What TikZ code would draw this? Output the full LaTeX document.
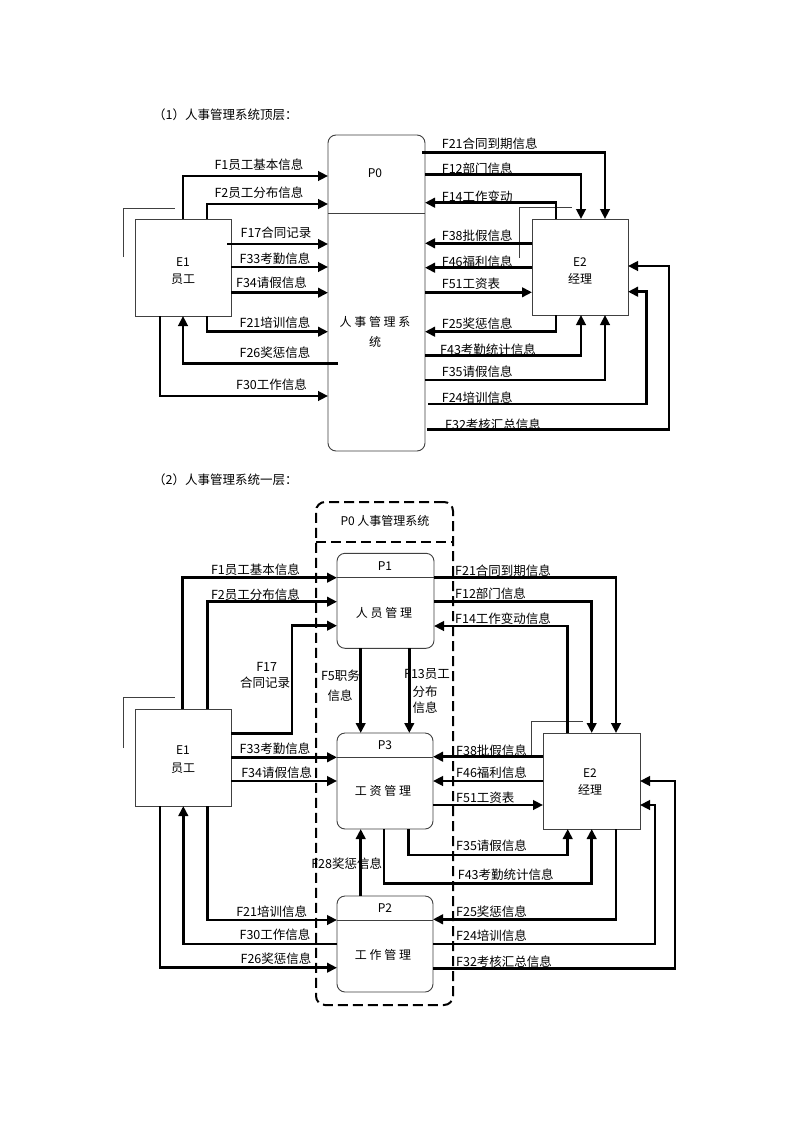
\documentclass[tikz,border=0pt]{standalone}
\usepackage{fontspec}
\setmainfont{Noto Sans CJK SC}
\usetikzlibrary{arrows.meta,calc}
\tikzset{
  flow/.style={line width=2.6pt,-{Triangle[length=10pt,width=9.5pt]}},
  box/.style={draw=black!75,line width=0.9pt,inner sep=0pt,outer sep=0pt},
  proc/.style={box,rounded corners=8pt},
  thin/.style={draw=black!75,line width=0.9pt},
  lab/.style={inner sep=0pt,font=\fontsize{12.5}{14}\selectfont},
  llab/.style={lab,anchor=west},
  ttl/.style={inner sep=0pt,anchor=west,font=\fontsize{12.5}{15}\selectfont},
  boxtxt/.style={inner sep=0pt,font=\fontsize{12}{14}\selectfont}
}
\begin{document}
\begin{tikzpicture}[x=1pt,y=-1pt]
\useasboundingbox (0,0) rectangle (800,1132);
\fill[white] (0,0) rectangle (800,1132);

% ================= TOP =================
\node[ttl] (t1) at (153,115) {（1）人事管理系统顶层：};

\node[proc,minimum width=97pt,minimum height=316pt] (P0) at (376.5,293) {};
\draw[thin] (P0.west |- 0,213) -- (P0.east |- 0,213);
\node[boxtxt] (P0t) at (375,173) {P0};
\node[boxtxt] (P0a) at (375,322) {人 事 管 理 系};
\node[boxtxt] (P0b) at (375,342) {统};

\node[box,minimum width=96pt,minimum height=97pt] (E1) at (183,267.5) {};
\node[boxtxt] (E1a) at (183,262) {E1};
\node[boxtxt] (E1b) at (183,279) {员工};
\draw[thin] (123,257) -- (123,208) -- (175,208);

\node[box,minimum width=96pt,minimum height=96pt] (E2) at (580,267) {};
\node[boxtxt] (E2a) at (580,262) {E2};
\node[boxtxt] (E2b) at (580,279) {经理};
\draw[thin] (519.3,257.7) -- (519.3,207.3) -- (571.7,207.3);

% left flows
\draw[flow] (E1.north -| 183,0) |- (P0.west |- 0,176);
\draw[flow] (E1.north -| 207,0) |- (P0.west |- 0,204);
\draw[flow] ($(E1.east |- 0,244)+(-4,0)$) -- (P0.west |- 0,244);
\draw[flow] (E1.east |- 0,267) -- (P0.west |- 0,267);
\draw[flow] (E1.east |- 0,292.7) -- (P0.west |- 0,292.7);
\draw[flow] (E1.south -| 207,0) |- (P0.west |- 0,331.7);
\draw[flow] ($(P0.west |- 0,363.3)+(10,0)$) -| (E1.south -| 183,0);
\draw[flow] (E1.south -| 160,0) |- (P0.west |- 0,396);

\node[lab] (l1) at (259,165) {F1员工基本信息};
\node[lab] (l2) at (259,193) {F2员工分布信息};
\node[lab] (l17) at (276,233) {F17合同记录};
\node[lab] (l33) at (275,259) {F33考勤信息};
\node[lab] (l34) at (271.5,283) {F34请假信息};
\node[lab] (l21) at (275,323) {F21培训信息};
\node[lab] (l26) at (275,353) {F26奖惩信息};
\node[lab] (l30) at (271.5,385) {F30工作信息};

% right flows
\draw[flow] ($(P0.east |- 0,152.3)+(-3,0)$) -| (E2.north -| 605,0);
\draw[flow] (P0.east |- 0,174.3) -| (E2.north -| 581,0);
\draw[flow] (E2.north -| 556,0) |- (P0.east |- 0,202.7);
\draw[flow] (E2.west |- 0,243.3) -- (P0.east |- 0,243.3);
\draw[flow] (E2.west |- 0,267.7) -- (P0.east |- 0,267.7);
\draw[flow] (P0.east |- 0,292.3) -- (E2.west |- 0,292.3);
\draw[flow] (E2.south -| 556,0) |- (P0.east |- 0,331.7);
\draw[flow] (P0.east |- 0,355.7) -| (E2.south -| 581,0);
\draw[flow] (P0.east |- 0,380) -| (E2.south -| 605,0);
\draw[flow] ($(P0.east |- 0,404)+(3,0)$) -| ($(E2.east |- 0,291.7)+(18.7,0)$) -- (E2.east |- 0,291.7);
\draw[flow] ($(P0.east |- 0,429.3)+(2,0)$) -| ($(E2.east |- 0,266)+(41,0)$) -- (E2.east |- 0,266);

\node[llab] (r21) at (441.7,143.3) {F21合同到期信息};
\node[llab] (r12) at (441.7,168.3) {F12部门信息};
\node[llab] (r14) at (441.7,196.7) {F14工作变动};
\node[llab] (r38) at (441.7,236) {F38批假信息};
\node[llab] (r46) at (441.7,261.7) {F46福利信息};
\node[llab] (r51) at (441.7,284) {F51工资表};
\node[llab] (r25) at (441.7,323.3) {F25奖惩信息};
\node[llab] (r43) at (440,349.3) {F43考勤统计信息};
\node[llab] (r35) at (441.7,371.7) {F35请假信息};
\node[llab] (r24) at (441.7,397.3) {F24培训信息};
\node[llab] (r32) at (445,425) {F32考核汇总信息};

% ================= BOTTOM =================
\node[ttl] (t2) at (153,480) {（2）人事管理系统一层：};

\node[draw,line width=2pt,dash pattern=on 10pt off 5pt,rounded corners=9pt,inner sep=0pt,outer sep=0pt,minimum width=137pt,minimum height=503pt] (PP) at (384.5,753.5) {};
\draw[line width=2pt,dash pattern=on 10pt off 5pt] (PP.west |- 0,541.7) -- (PP.east |- 0,541.7);
\node[boxtxt] (PPt) at (385,521) {P0 人事管理系统};

\node[proc,minimum width=97pt,minimum height=95pt] (P1) at (385.5,600.8) {};
\draw[thin] (P1.west |- 0,577.7) -- (P1.east |- 0,577.7);
\node[boxtxt] (P1t) at (385,566) {P1};
\node[boxtxt] (P1a) at (384,613) {人 员 管 理};

\node[proc,minimum width=96pt,minimum height=96pt] (P3) at (385,781) {};
\draw[thin] (P3.west |- 0,757.3) -- (P3.east |- 0,757.3);
\node[boxtxt] (P3t) at (385,745) {P3};
\node[boxtxt] (P3a) at (383,791) {工 资 管 理};

\node[proc,minimum width=96pt,minimum height=96pt] (P2) at (385,944) {};
\draw[thin] (P2.west |- 0,920) -- (P2.east |- 0,920);
\node[boxtxt] (P2t) at (385,908) {P2};
\node[boxtxt] (P2a) at (383,955) {工 作 管 理};

\node[box,minimum width=96pt,minimum height=97pt] (F1) at (183,757.5) {};
\node[boxtxt] (F1a) at (183,750) {E1};
\node[boxtxt] (F1b) at (183,768) {员工};
\draw[thin] (123.3,748) -- (123.3,697.3) -- (175,697.3);

\node[box,minimum width=97pt,minimum height=96pt] (F2) at (591.5,781) {};
\node[boxtxt] (F2a) at (590,773) {E2};
\node[boxtxt] (F2b) at (590,790) {经理};
\draw[thin] (531.7,756.7) -- (531.7,721) -- (583.3,721);

% left flows
\draw[flow] (F1.north -| 182.7,0) |- (P1.west |- 0,577.7);
\draw[flow] (F1.north -| 207.3,0) |- (P1.west |- 0,601.7);
\draw[flow] (F1.east |- 0,733.3) -| ($(P1.west |- 0,625.7)+(-45,0)$) -- (P1.west |- 0,625.7);
\draw[flow] (P1.south -| 360.7,0) -- (P3.north -| 360.7,0);
\draw[flow] (P1.south -| 409.3,0) -- (P3.north -| 409.3,0);
\draw[flow] (F1.east |- 0,757.3) -- (P3.west |- 0,757.3);
\draw[flow] (F1.east |- 0,781) -- (P3.west |- 0,781);
\draw[flow] (P2.north -| 360.7,0) -- (P3.south -| 360.7,0);
\draw[flow] (F1.south -| 207.3,0) |- (P2.west |- 0,920);
\draw[flow] (P2.west |- 0,944) -| (F1.south -| 183.3,0);
\draw[flow] (F1.south -| 160,0) |- (P2.west |- 0,967.7);

\node[lab] (m1) at (255.5,569.3) {F1员工基本信息};
\node[lab] (m2) at (255.5,594.3) {F2员工分布信息};
\node[lab] (m17a) at (266.7,666.7) {F17};
\node[lab] (m17b) at (265,683) {合同记录};
\node[lab] (m5a) at (340.5,675.5) {F5职务};
\node[lab] (m5b) at (340,695.7) {信息};
\node[lab] (m13a) at (427,674) {F13员工};
\node[lab] (m13b) at (425,691.7) {分布};
\node[lab] (m13c) at (425,708) {信息};
\node[lab] (m33) at (275,748.3) {F33考勤信息};
\node[lab] (m34) at (276.7,772.7) {F34请假信息};
\node[lab] (m28) at (346.7,863.3) {F28奖惩信息};
\node[lab] (m21) at (271.7,911.7) {F21培训信息};
\node[lab] (m30) at (275,935) {F30工作信息};
\node[lab] (m26) at (276,958.3) {F26奖惩信息};

% right flows
\draw[flow] (P1.east |- 0,577.3) -| (F2.north -| 616,0);
\draw[flow] (P1.east |- 0,601.7) -| (F2.north -| 591.7,0);
\draw[flow] (F2.north -| 567.7,0) |- (P1.east |- 0,626);
\draw[flow] (F2.west |- 0,756.7) -- (P3.east |- 0,756.7);
\draw[flow] (F2.west |- 0,781) -- (P3.east |- 0,781);
\draw[flow] (P3.east |- 0,805) -- (F2.west |- 0,805);
\draw[flow] (P3.south -| 408.3,0) |- ($(F2.south -| 567.7,0)+(0,26)$) -- (F2.south -| 567.7,0);
\draw[flow] (P3.south -| 384,0) |- ($(F2.south -| 591.7,0)+(0,54.3)$) -- (F2.south -| 591.7,0);
\draw[flow] (F2.south -| 616,0) |- (P2.east |- 0,919.3);
\draw[flow] (P2.east |- 0,944) -| ($(F2.east |- 0,805)+(15,0)$) -- (F2.east |- 0,805);
\draw[flow] (P2.east |- 0,968.3) -| ($(F2.east |- 0,781)+(35,0)$) -- (F2.east |- 0,781);

\node[llab] (n21) at (455,570.7) {F21合同到期信息};
\node[llab] (n12) at (455,593.3) {F12部门信息};
\node[llab] (n14) at (455,619) {F14工作变动信息};
\node[llab] (n38) at (456,750.7) {F38批假信息};
\node[llab] (n46) at (456,772.7) {F46福利信息};
\node[llab] (n51) at (456,797.3) {F51工资表};
\node[llab] (n35) at (456,846) {F35请假信息};
\node[llab] (n43) at (457.7,875) {F43考勤统计信息};
\node[llab] (n25) at (456,911.7) {F25奖惩信息};
\node[llab] (n24) at (456,936) {F24培训信息};
\node[llab] (n32) at (456,961.7) {F32考核汇总信息};
\end{tikzpicture}
\end{document}
